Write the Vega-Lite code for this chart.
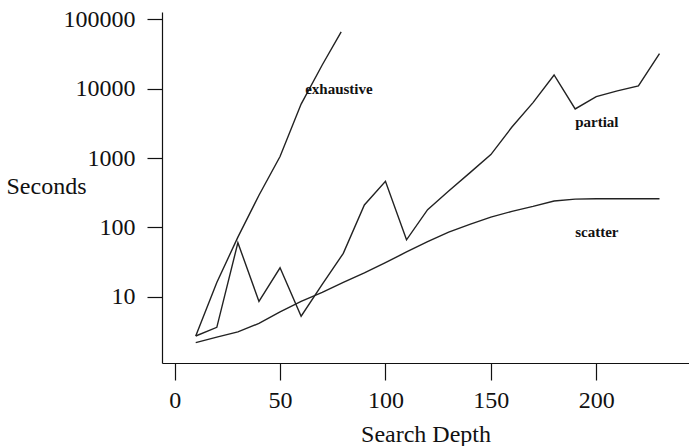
{
  "$schema": "https://vega.github.io/schema/vega-lite/v6.json",
  "width": 527,
  "height": 351,
  "autosize": "none",
  "padding": {"left": 162, "top": 12, "right": 0, "bottom": 83},
  "background": "white",
  "config": {
    "view": {"stroke": null},
    "axis": {
      "grid": false,
      "domainColor": "#111",
      "domainWidth": 1.2,
      "tickColor": "#111",
      "tickWidth": 1.2,
      "labelFont": "Liberation Serif",
      "labelFontSize": 24,
      "labelColor": "#111",
      "titleFont": "Liberation Serif",
      "titleFontSize": 24,
      "titleFontWeight": "normal",
      "titleColor": "#111"
    }
  },
  "datasets": {
    "lines": [
      {"series": "exhaustive", "depth": 10, "seconds": 2.7},
      {"series": "exhaustive", "depth": 20, "seconds": 16},
      {"series": "exhaustive", "depth": 30, "seconds": 72},
      {"series": "exhaustive", "depth": 40, "seconds": 290},
      {"series": "exhaustive", "depth": 50, "seconds": 1050},
      {"series": "exhaustive", "depth": 60, "seconds": 6000},
      {"series": "exhaustive", "depth": 70, "seconds": 22000},
      {"series": "exhaustive", "depth": 79, "seconds": 66000},
      {"series": "partial", "depth": 10, "seconds": 2.7},
      {"series": "partial", "depth": 20, "seconds": 3.6},
      {"series": "partial", "depth": 30, "seconds": 60},
      {"series": "partial", "depth": 40, "seconds": 8.5},
      {"series": "partial", "depth": 50, "seconds": 26},
      {"series": "partial", "depth": 60, "seconds": 5.2},
      {"series": "partial", "depth": 70, "seconds": 15},
      {"series": "partial", "depth": 80, "seconds": 42},
      {"series": "partial", "depth": 90, "seconds": 210},
      {"series": "partial", "depth": 100, "seconds": 460},
      {"series": "partial", "depth": 110, "seconds": 66},
      {"series": "partial", "depth": 120, "seconds": 180},
      {"series": "partial", "depth": 130, "seconds": 333},
      {"series": "partial", "depth": 140, "seconds": 610},
      {"series": "partial", "depth": 150, "seconds": 1120},
      {"series": "partial", "depth": 160, "seconds": 2800},
      {"series": "partial", "depth": 170, "seconds": 6300},
      {"series": "partial", "depth": 180, "seconds": 15800},
      {"series": "partial", "depth": 190, "seconds": 5100},
      {"series": "partial", "depth": 200, "seconds": 7700},
      {"series": "partial", "depth": 210, "seconds": 9300},
      {"series": "partial", "depth": 220, "seconds": 11000},
      {"series": "partial", "depth": 230, "seconds": 32000},
      {"series": "scatter", "depth": 10, "seconds": 2.17},
      {"series": "scatter", "depth": 20, "seconds": 2.6},
      {"series": "scatter", "depth": 30, "seconds": 3.1},
      {"series": "scatter", "depth": 40, "seconds": 4.1},
      {"series": "scatter", "depth": 50, "seconds": 6.0},
      {"series": "scatter", "depth": 60, "seconds": 8.5},
      {"series": "scatter", "depth": 70, "seconds": 11.5},
      {"series": "scatter", "depth": 80, "seconds": 16},
      {"series": "scatter", "depth": 90, "seconds": 22},
      {"series": "scatter", "depth": 100, "seconds": 31},
      {"series": "scatter", "depth": 110, "seconds": 44},
      {"series": "scatter", "depth": 120, "seconds": 62},
      {"series": "scatter", "depth": 130, "seconds": 85},
      {"series": "scatter", "depth": 140, "seconds": 110},
      {"series": "scatter", "depth": 150, "seconds": 140},
      {"series": "scatter", "depth": 160, "seconds": 170},
      {"series": "scatter", "depth": 170, "seconds": 200},
      {"series": "scatter", "depth": 180, "seconds": 240},
      {"series": "scatter", "depth": 190, "seconds": 255},
      {"series": "scatter", "depth": 200, "seconds": 258},
      {"series": "scatter", "depth": 210, "seconds": 258},
      {"series": "scatter", "depth": 220, "seconds": 258},
      {"series": "scatter", "depth": 230, "seconds": 258}
    ],
    "labels": [
      {"label": "exhaustive", "depth": 61.9, "seconds": 8380},
      {"label": "partial", "depth": 190, "seconds": 2800},
      {"label": "scatter", "depth": 190, "seconds": 72}
    ]
  },
  "layer": [
    {
      "data": {"name": "lines"},
      "mark": {"type": "line", "color": "#222", "strokeWidth": 1.4},
      "encoding": {
        "x": {
          "field": "depth", "type": "quantitative",
          "scale": {"domain": [-6, 244], "nice": false, "zero": false},
          "axis": {
            "values": [0, 50, 100, 150, 200],
            "tickSize": 17,
            "labelPadding": 8,
            "title": "Search Depth",
            "titleY": 78,
            "titleBaseline": "alphabetic"
          }
        },
        "y": {
          "field": "seconds", "type": "quantitative",
          "scale": {"type": "log", "domain": [1.1, 128000], "nice": false},
          "axis": {
            "values": [10, 100, 1000, 10000, 100000],
            "format": "d",
            "tickSize": 15,
            "labelPadding": 12,
            "title": "Seconds",
            "titleAngle": 0,
            "titleAlign": "left",
            "titleBaseline": "alphabetic",
            "titleX": -156,
            "titleY": 181
          }
        },
        "detail": {"field": "series"}
      }
    },
    {
      "data": {"name": "labels"},
      "mark": {"type": "text", "align": "left", "baseline": "alphabetic", "font": "Liberation Serif", "fontSize": 15, "fontWeight": "bold", "color": "#111"},
      "encoding": {
        "x": {"field": "depth", "type": "quantitative"},
        "y": {"field": "seconds", "type": "quantitative"},
        "text": {"field": "label"}
      }
    }
  ]
}
